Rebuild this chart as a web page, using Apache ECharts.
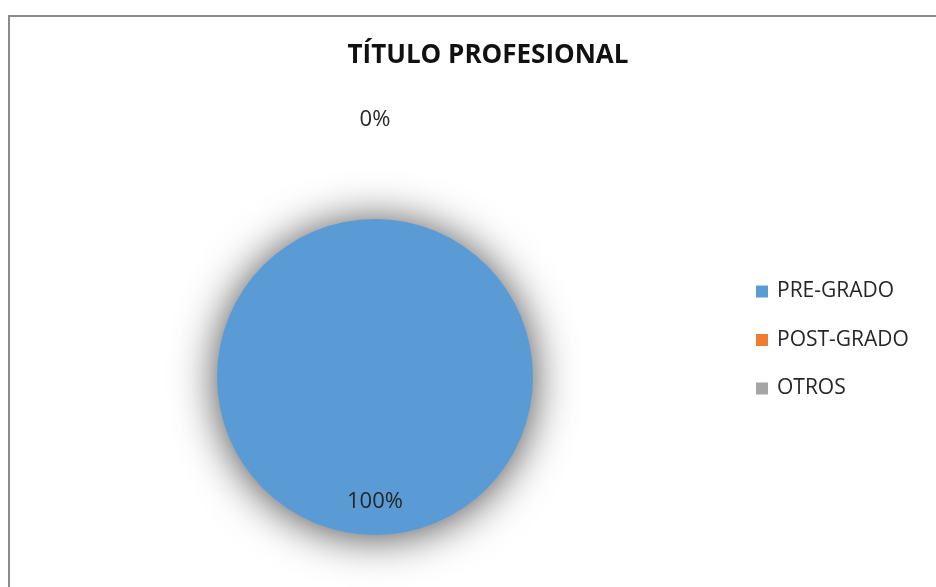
<!DOCTYPE html>
<html>
<head>
<meta charset="utf-8">
<script src="https://cdn.jsdelivr.net/npm/echarts@6/dist/echarts.min.js"></script>
<style>
  html, body { margin: 0; padding: 0; background: #fff; overflow: hidden; }
  #frame {
    position: absolute; left: 8px; top: 15px; width: 1000px; height: 700px;
    border-left: 2px solid #8c8c8c; border-top: 2px solid #8c8c8c;
  }
  #chart { position: absolute; left: 0; top: 0; width: 936px; height: 587px; }
</style>
</head>
<body>
<div id="frame"></div>
<div id="chart"></div>
<script>
const categories = ["PRE-GRADO", "POST-GRADO", "OTROS"];
const values = [100, 0, 0];
const colors = ["#5B9BD5", "#ED7D31", "#A5A5A5"];

const font = "'Open Sans', 'Noto Sans', sans-serif";
const chart = echarts.init(document.getElementById("chart"));

chart.setOption({
  animation: false,
  title: {
    text: "TÍTULO PROFESIONAL",
    left: 483,
    top: 38,
    textAlign: "center",
    textStyle: { fontFamily: font, fontSize: 26, fontWeight: "bold", color: "#111" },
  },
  legend: {
    orient: "vertical",
    left: 756,
    top: 281,
    padding: 0,
    itemWidth: 12,
    itemHeight: 12,
    itemGap: 27.5,
    icon: "rect",
    textStyle: { fontFamily: font, fontSize: 21, color: "#262626", padding: [0, 0, 0, 4] },
    data: categories,
  },
  series: [
    {
      type: "pie",
      center: [375, 377],
      radius: 158,
      startAngle: 90,
      avoidLabelOverlap: false,
      itemStyle: {
        shadowBlur: 44,
        shadowColor: "rgba(0,0,0,0.72)",
        shadowOffsetY: 2,
      },
      labelLine: { show: false },
      label: {
        position: "inside",
        fontFamily: font,
        fontSize: 22,
        color: "#262626",
        formatter: (p) => p.percent.toFixed(0) + "%",
      },
      data: categories.map((c, i) => ({
        name: c,
        value: values[i],
        itemStyle: { color: colors[i] },
        label: { offset: i === 0 ? [0, 43] : [0, -175] },
      })),
    },
  ],
});
</script>
</body>
</html>
